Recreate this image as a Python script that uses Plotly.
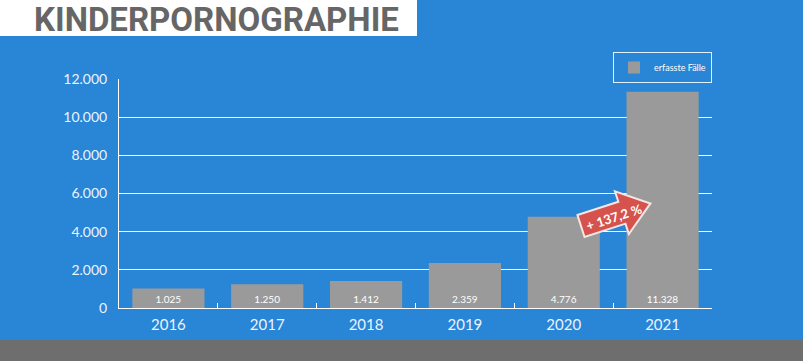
import math
import plotly.graph_objects as go

years = ["2016", "2017", "2018", "2019", "2020", "2021"]
cases = [1025, 1250, 1412, 2359, 4776, 11328]
series_name = "erfasste Fälle"
title_text = "KINDERPORNOGRAPHIE"
change_label = "+ 137,2 %"
y_ticks = [0, 2000, 4000, 6000, 8000, 10000, 12000]

W, H = 803, 361
L, R, T, B = 119, 91, 79, 53
PW, PH = W - L - R, H - T - B

BLUE = "#2985d6"
BAR = "#9a9a9a"
LABEL = "#eaf4ff"


def px(x):
    return (x - L) / PW


def py(y):
    return (H - B - y) / PH


fig = go.Figure()
fig.add_trace(go.Bar(
    x=years, y=cases, name=series_name,
    marker=dict(color=BAR, line=dict(width=0)),
    texttemplate="%{y:,d}", textposition="inside", insidetextanchor="start",
    textfont=dict(family="Lato", size=10, color="white"),
    showlegend=True,
))

# arrow (decoration) built in pixel space then rotated
ang = math.radians(-18)
cx, cy = 581, 226
local = [(0, -11.5), (43, -11.5), (43, -22.5), (73, 0), (43, 22.5), (43, 11.5), (0, 11.5)]
pts = []
for u, v in local:
    X = cx + u * math.cos(ang) - v * math.sin(ang)
    Y = cy + u * math.sin(ang) + v * math.cos(ang)
    pts.append((px(X), py(Y)))
path = "M " + " L ".join(f"{a:.5f},{b:.5f}" for a, b in pts) + " Z"

shapes = [
    dict(type="rect", xref="paper", yref="paper", x0=px(0), x1=px(417), y0=py(36), y1=py(0),
         fillcolor="white", line=dict(width=0), layer="below"),
    dict(type="rect", xref="paper", yref="paper", x0=px(0), x1=px(W), y0=py(H), y1=py(340),
         fillcolor="#6e6e6e", line=dict(width=0), layer="below"),
    dict(type="path", xref="paper", yref="paper", path=path,
         fillcolor="#d6524c", line=dict(color="#f4e6e4", width=2), layer="above"),
]

annotations = [
    dict(text=title_text, xref="paper", yref="paper", x=px(32), y=py(19),
         xanchor="left", yanchor="middle", showarrow=False,
         font=dict(family="Roboto", size=33, color="#666666", weight="bold")),
    dict(text=change_label, xref="paper", yref="paper", x=px(614), y=py(217),
         xanchor="center", yanchor="middle", showarrow=False, textangle=-18,
         font=dict(family="Lato", size=13, color="white", weight="bold")),
]

fig.update_layout(
    width=W, height=H,
    margin=dict(l=L, r=R, t=T, b=B, pad=0),
    paper_bgcolor=BLUE, plot_bgcolor=BLUE,
    separators=",.",
    bargap=0.27,
    shapes=shapes, annotations=annotations,
    legend=dict(x=1, xanchor="right", y=py(52), yanchor="top",
                bgcolor="rgba(0,0,0,0)", bordercolor="#dff3ff", borderwidth=1,
                font=dict(family="Lato", size=9, color="white"),
                itemwidth=30, tracegroupgap=0),
    xaxis=dict(type="category", showline=True, linecolor="white", linewidth=1,
               ticks="inside", tickson="boundaries", ticklen=5, tickcolor="white",
               showgrid=False, tickfont=dict(family="Lato", size=15, color=LABEL),
               ticklabelstandoff=3),
    yaxis=dict(range=[0, 12000], tickvals=y_ticks, tickformat=",d",
               showline=True, linecolor="white", linewidth=1,
               showgrid=True, gridcolor="white", gridwidth=1, zeroline=False,
               tickfont=dict(family="Lato", size=14, color=LABEL),
               ticklabelstandoff=8),
    font=dict(family="Lato"),
)

fig.write_html("out.html")
